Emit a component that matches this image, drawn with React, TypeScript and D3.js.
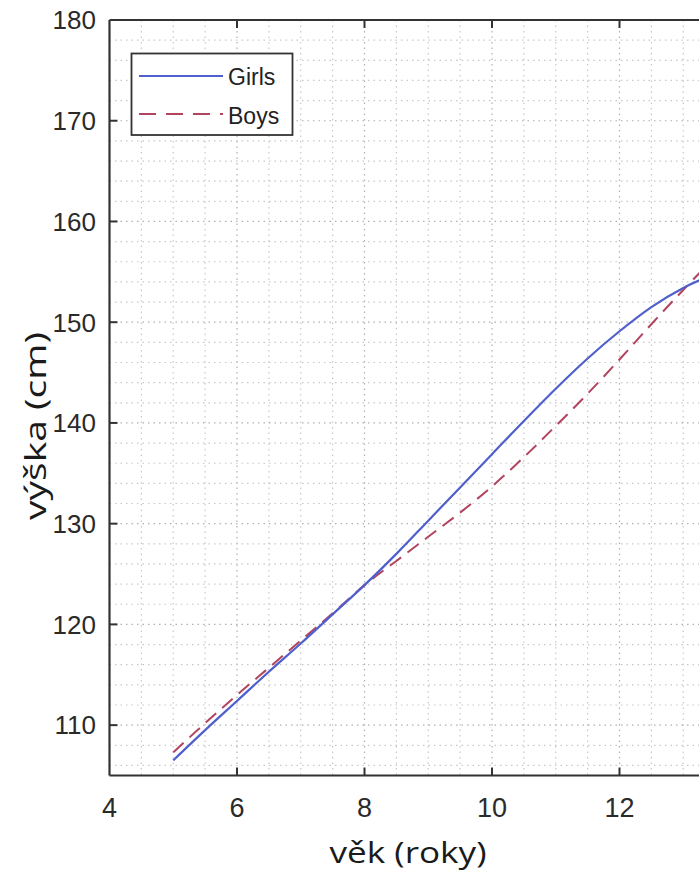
import React from "react";
import * as d3 from "d3";

const ages = [5, 5.5, 6, 6.5, 7, 7.5, 8, 8.5, 9, 9.5, 10, 10.5, 11, 11.5, 12, 12.5, 13, 13.5];
const girls = [106.5, 109.5, 112.4, 115.3, 118.1, 121.0, 123.9, 127.0, 130.3, 133.6, 136.9, 140.2, 143.4, 146.4, 149.1, 151.5, 153.4, 154.8];
const boys = [107.3, 110.2, 113.0, 115.7, 118.4, 121.1, 123.9, 126.3, 128.7, 131.1, 133.7, 136.6, 139.7, 142.9, 146.3, 149.8, 153.2, 156.5];
const xTicks = [4, 6, 8, 10, 12];
const yTicks = [110, 120, 130, 140, 150, 160, 170, 180];
const seriesNames = ["Girls", "Boys"];

const W = 699;
const H = 877;

export default function App() {
  const x = d3.scaleLinear().domain([4, 16]).range([109.5, 874.5]);
  const y = d3.scaleLinear().domain([105, 180]).range([775.5, 20]);
  const line = d3
    .line<number>()
    .x((_, i) => x(ages[i]))
    .y((d) => y(d))
    .curve(d3.curveMonotoneX);

  const minorX = d3.range(4.5, 16, 0.5);
  const minorY = d3.range(106, 180, 2);
  const tickFont = "'Liberation Sans', Arial, sans-serif";
  const labelFont = "'Open Sans', 'Noto Sans', sans-serif";
  const girlsColor = "#4f5fcb";
  const boysColor = "#b2445e";
  const axisColor = "#333";

  return (
    <svg
      width={W}
      height={H}
      viewBox={`0 0 ${W} ${H}`}
      style={{ position: "absolute", left: 0, top: 0, background: "#fff" }}
    >
      <defs>
        <clipPath id="plot">
          <rect x={x(4)} y={y(180)} width={x(16) - x(4)} height={y(105) - y(180)} />
        </clipPath>
      </defs>
      <rect x={0} y={0} width={W} height={H} fill="#fff" />
      {/* grid */}
      <g clipPath="url(#plot)">
        {minorX.map((v) => (
          <line
            key={"gx" + v}
            x1={x(v)}
            x2={x(v)}
            y1={y(180)}
            y2={y(105)}
            stroke={v % 2 === 0 ? "#b0b0b0" : "#c8c8c8"}
            strokeWidth={1.2}
            strokeDasharray="1.5 4"
          />
        ))}
        {minorY.map((v) => (
          <line
            key={"gy" + v}
            x1={x(4)}
            x2={x(16)}
            y1={y(v)}
            y2={y(v)}
            stroke={v % 10 === 0 ? "#b0b0b0" : "#c8c8c8"}
            strokeWidth={1.2}
            strokeDasharray="1.5 4"
          />
        ))}
        <path d={line(boys) || ""} fill="none" stroke={boysColor} strokeWidth={2} strokeDasharray="14 8" />
        <path d={line(girls) || ""} fill="none" stroke={girlsColor} strokeWidth={2.2} />
      </g>
      {/* axes box */}
      <line x1={x(4)} x2={x(4)} y1={y(180)} y2={y(105)} stroke={axisColor} strokeWidth={2.2} />
      <line x1={x(4)} x2={x(16)} y1={y(180)} y2={y(180)} stroke={axisColor} strokeWidth={2.2} />
      <line x1={x(4)} x2={x(16)} y1={y(105)} y2={y(105)} stroke={axisColor} strokeWidth={2.2} />
      {/* ticks */}
      {xTicks.slice(1).map((v) => (
        <g key={"xt" + v}>
          <line x1={x(v)} x2={x(v)} y1={y(105)} y2={y(105) - 8} stroke={axisColor} strokeWidth={2} />
          <line x1={x(v)} x2={x(v)} y1={y(180)} y2={y(180) + 8} stroke={axisColor} strokeWidth={2} />
        </g>
      ))}
      {yTicks.slice(0, -1).map((v) => (
        <line key={"yt" + v} x1={x(4)} x2={x(4) + 8} y1={y(v)} y2={y(v)} stroke={axisColor} strokeWidth={2} />
      ))}
      {xTicks.map((v) => (
        <text
          key={"xl" + v}
          x={x(v)}
          y={817}
          textAnchor="middle"
          fontFamily={tickFont}
          fontSize={27}
          fill="#2a2a2a"
        >
          {v}
        </text>
      ))}
      {yTicks.map((v) => (
        <text
          key={"yl" + v}
          x={96}
          y={y(v)}
          dy="0.36em"
          textAnchor="end"
          fontFamily={tickFont}
          fontSize={26}
          fill="#2a2a2a"
        >
          {v}
        </text>
      ))}
      {/* axis labels */}
      <text
        x={408}
        y={863}
        textAnchor="middle"
        fontFamily={labelFont}
        fontSize={29}
        fill="#1a1a1a"
        textLength={157}
        lengthAdjust="spacingAndGlyphs"
      >
        věk (roky)
      </text>
      <text
        transform="translate(46,426) rotate(-90)"
        textAnchor="middle"
        fontFamily={labelFont}
        fontSize={29}
        fill="#1a1a1a"
        textLength={188}
        lengthAdjust="spacingAndGlyphs"
      >
        výška (cm)
      </text>
      {/* legend */}
      <g>
        <rect x={131.5} y={53.5} width={161} height={81.5} fill="#fff" stroke={axisColor} strokeWidth={1.8} />
        <line x1={139} x2={223} y1={76} y2={76} stroke={girlsColor} strokeWidth={2} />
        <line x1={139} x2={223} y1={114} y2={114} stroke={boysColor} strokeWidth={2} strokeDasharray="17 10" />
        <text x={228} y={85} fontFamily={tickFont} fontSize={23} fill="#222">
          {seriesNames[0]}
        </text>
        <text x={228} y={124} fontFamily={tickFont} fontSize={23} fill="#222">
          {seriesNames[1]}
        </text>
      </g>
    </svg>
  );
}
